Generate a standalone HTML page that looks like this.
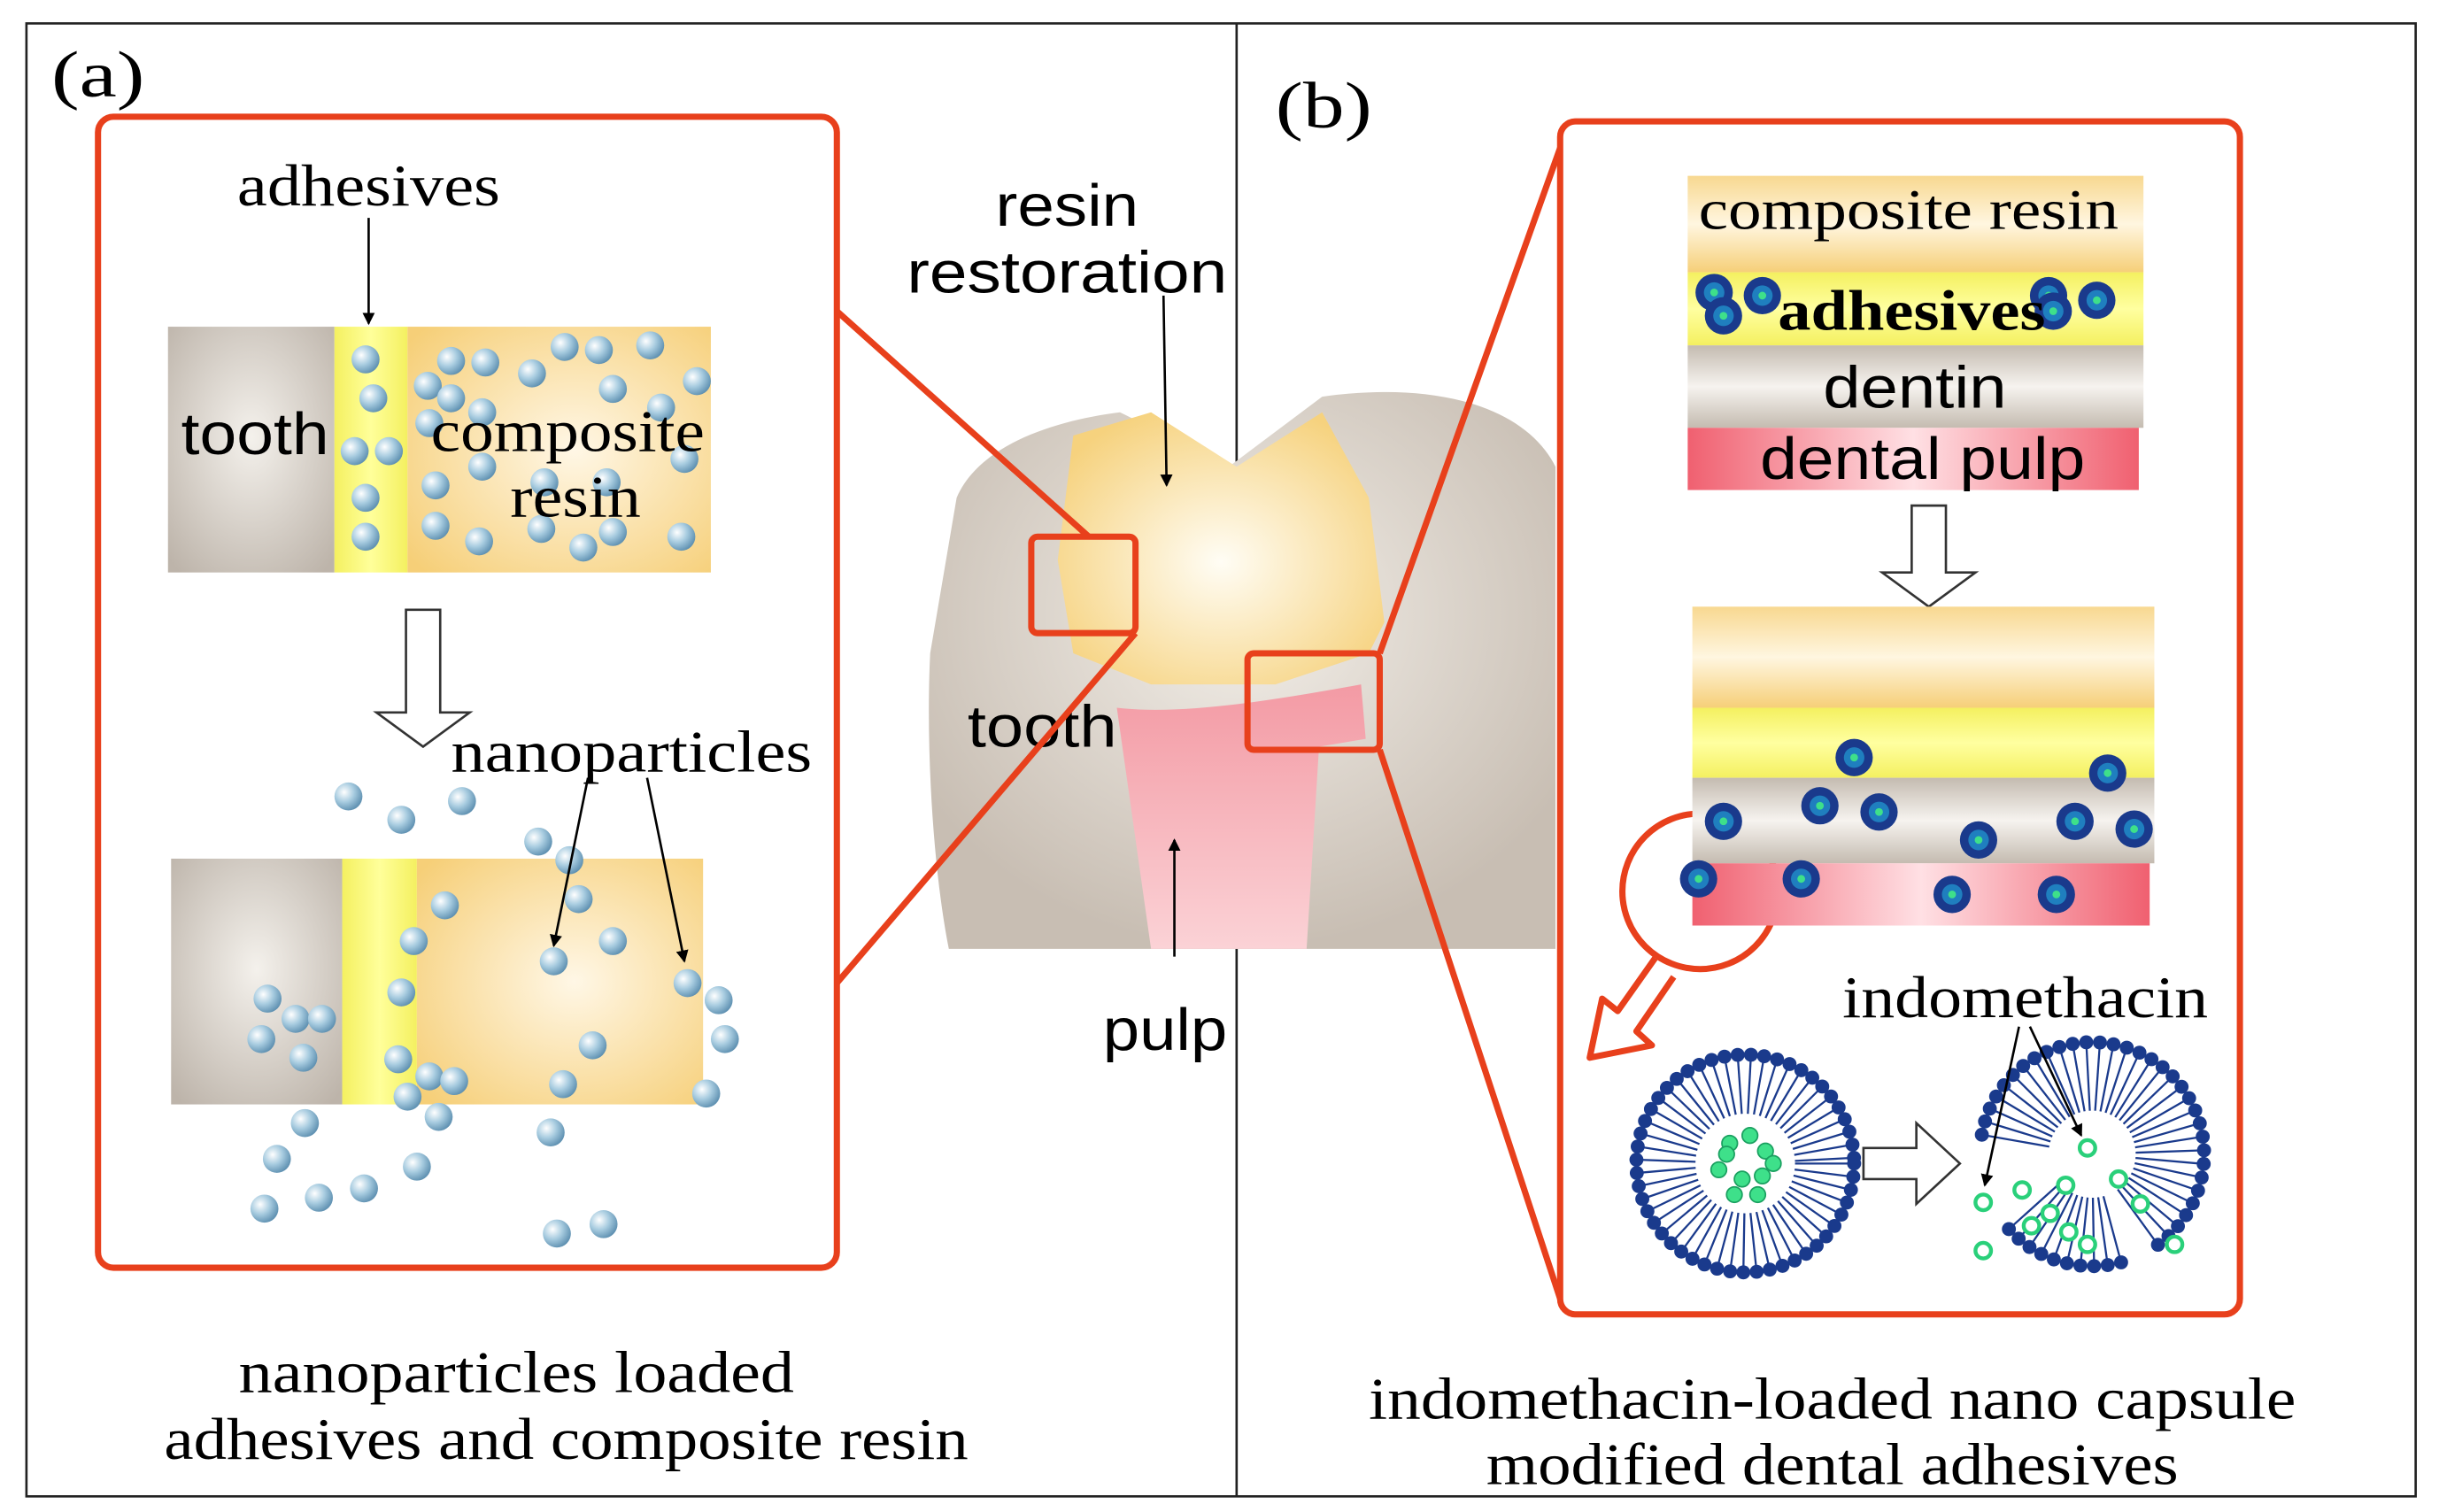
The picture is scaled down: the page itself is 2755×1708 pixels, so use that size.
<!DOCTYPE html>
<html><head><meta charset="utf-8"><style>
html,body{margin:0;padding:0;background:#fff}
svg{display:block}
.se{font-family:"Liberation Serif",serif}
.sa{font-family:"Liberation Sans",sans-serif}
</style></head><body>
<svg id="s" width="2755" height="1708" viewBox="0 0 1568 972" xmlns="http://www.w3.org/2000/svg">
<defs>
<radialGradient id="tg" cx="0.5" cy="0.45" r="0.7"><stop offset="0" stop-color="#f4f1ec"/><stop offset="1" stop-color="#bdb4aa"/></radialGradient>
<radialGradient id="cg" cx="0.55" cy="0.5" r="0.7"><stop offset="0" stop-color="#fff7e6"/><stop offset="1" stop-color="#f6cf78"/></radialGradient>
<linearGradient id="yg" x1="0" x2="1"><stop offset="0" stop-color="#f4f060"/><stop offset="0.5" stop-color="#ffff9a"/><stop offset="1" stop-color="#f4f060"/></linearGradient>
<linearGradient id="yh" x1="0" y1="0" x2="0" y2="1"><stop offset="0" stop-color="#f4f060"/><stop offset="0.5" stop-color="#ffffa0"/><stop offset="1" stop-color="#f4f060"/></linearGradient>
<linearGradient id="ch" x1="0" y1="0" x2="0" y2="1"><stop offset="0" stop-color="#f8d890"/><stop offset="0.5" stop-color="#fff6e0"/><stop offset="1" stop-color="#f6cf78"/></linearGradient>
<linearGradient id="dh" x1="0" y1="0" x2="0" y2="1"><stop offset="0" stop-color="#c4bbb0"/><stop offset="0.5" stop-color="#f6f3ef"/><stop offset="1" stop-color="#c4bbb0"/></linearGradient>
<linearGradient id="ph" x1="0" y1="0" x2="1" y2="0"><stop offset="0" stop-color="#f06070"/><stop offset="0.5" stop-color="#ffe0e4"/><stop offset="1" stop-color="#f06070"/></linearGradient>
<radialGradient id="bg" cx="0.35" cy="0.35" r="0.7"><stop offset="0" stop-color="#ffffff"/><stop offset="0.5" stop-color="#a8cce0"/><stop offset="1" stop-color="#5d8fb0"/></radialGradient>
<radialGradient id="toothg" cx="0.5" cy="0.4" r="0.6"><stop offset="0" stop-color="#f3efe9"/><stop offset="1" stop-color="#c8beb3"/></radialGradient>
<radialGradient id="crg" cx="0.5" cy="0.55" r="0.6"><stop offset="0" stop-color="#fffdf5"/><stop offset="1" stop-color="#f6d27e"/></radialGradient>
<linearGradient id="pg" x1="0" y1="0" x2="0" y2="1"><stop offset="0" stop-color="#f39aa4"/><stop offset="1" stop-color="#fbd2d6"/></linearGradient>
<marker id="ar" markerWidth="8" markerHeight="8" refX="7" refY="4" orient="auto" markerUnits="userSpaceOnUse"><path d="M0,0 L8,4 L0,8 Z" fill="#000"/></marker>
</defs>
<rect x="17" y="15" width="1536" height="947" fill="none" stroke="#222" stroke-width="1.5"/>
<line x1="795" y1="15" x2="795" y2="962" stroke="#222" stroke-width="1.5"/>
<text x="33" y="62" class="se" font-size="42" textLength="60" lengthAdjust="spacingAndGlyphs">(a)</text>
<text x="820" y="82" class="se" font-size="42" textLength="62" lengthAdjust="spacingAndGlyphs">(b)</text>

<path d="M615,320 C630,285 680,270 720,265 L790,300 L850,255 C920,245 980,260 1000,300 L1000,610 L610,610 C600,560 595,480 598,420 Z" fill="url(#toothg)"/>
<path d="M690,280 L740,265 L795,300 L850,265 L880,320 L890,400 L880,420 L820,440 L740,440 L690,420 L680,360 Z" fill="url(#crg)"/>
<path d="M718,455 C760,460 820,450 875,440 L878,475 L848,480 L840,610 L740,610 Z" fill="url(#pg)"/>
<text x="686" y="145" class="sa" font-size="38" text-anchor="middle" textLength="92" lengthAdjust="spacingAndGlyphs">resin</text>
<text x="686" y="188" class="sa" font-size="38" text-anchor="middle" textLength="206" lengthAdjust="spacingAndGlyphs">restoration</text>
<text x="670" y="480" class="sa" font-size="38" text-anchor="middle" textLength="96" lengthAdjust="spacingAndGlyphs">tooth</text>
<text x="749" y="675" class="sa" font-size="38" text-anchor="middle" textLength="80" lengthAdjust="spacingAndGlyphs">pulp</text>
<line x1="748" y1="190" x2="750" y2="312" stroke="#000" stroke-width="1.5" marker-end="url(#ar)"/>
<line x1="755" y1="615" x2="755" y2="540" stroke="#000" stroke-width="1.5" marker-end="url(#ar)"/>

<g stroke="#e8401c" stroke-width="4" fill="none">
<rect x="63" y="75" width="475" height="740" rx="10"/>
<rect x="663" y="345" width="67" height="62" rx="4"/>
<line x1="538" y1="200" x2="700" y2="345"/>
<line x1="538" y1="632" x2="730" y2="407"/>
<rect x="802" y="420" width="85" height="62" rx="4"/>
<rect x="1003" y="78" width="437" height="767" rx="10"/>
<line x1="887" y1="420" x2="1003" y2="95"/>
<line x1="887" y1="482" x2="1003" y2="835"/>
<circle cx="1093" cy="573" r="50"/>
</g>
<path d="M1064,616 L1040,650 L1030,642 L1022,680 L1062,672 L1052,663 L1076,628" fill="#fff" stroke="#e8401c" stroke-width="4" stroke-linejoin="round"/>

<rect x="108" y="210" width="107" height="158" fill="url(#tg)"/>
<rect x="215" y="210" width="47" height="158" fill="url(#yg)"/>
<rect x="262" y="210" width="195" height="158" fill="url(#cg)"/>
<g id="balls1"></g>
<text x="237" y="132" class="se" font-size="38" text-anchor="middle" textLength="169" lengthAdjust="spacingAndGlyphs">adhesives</text>
<line x1="237" y1="140" x2="237" y2="208" stroke="#000" stroke-width="1.5" marker-end="url(#ar)"/>
<text x="164" y="292" class="sa" font-size="38" text-anchor="middle" textLength="95" lengthAdjust="spacingAndGlyphs">tooth</text>
<text x="365" y="290" class="se" font-size="38" text-anchor="middle" textLength="176" lengthAdjust="spacingAndGlyphs">composite</text>
<text x="370" y="332" class="se" font-size="38" text-anchor="middle" textLength="84" lengthAdjust="spacingAndGlyphs">resin</text>
<path d="M261,392 L283,392 L283,458 L302,458 L272,480 L242,458 L261,458 Z" fill="#fff" stroke="#333" stroke-width="1.5"/>
<rect x="110" y="552" width="110" height="158" fill="url(#tg)"/>
<rect x="220" y="552" width="48" height="158" fill="url(#yg)"/>
<rect x="268" y="552" width="184" height="158" fill="url(#cg)"/>
<g id="balls2"></g>
<text x="406" y="496" class="se" font-size="38" text-anchor="middle" textLength="232" lengthAdjust="spacingAndGlyphs">nanoparticles</text>
<line x1="378" y1="500" x2="356" y2="608" stroke="#000" stroke-width="1.5" marker-end="url(#ar)"/>
<line x1="416" y1="500" x2="440" y2="618" stroke="#000" stroke-width="1.5" marker-end="url(#ar)"/>

<rect x="1085" y="113" width="293" height="62" fill="url(#ch)"/>
<rect x="1085" y="175" width="293" height="47" fill="url(#yh)"/>
<rect x="1085" y="222" width="293" height="53" fill="url(#dh)"/>
<rect x="1085" y="275" width="290" height="40" fill="url(#ph)"/>
<g id="caps1"></g>
<text x="1227" y="147" class="se" font-size="37" text-anchor="middle" textLength="270" lengthAdjust="spacingAndGlyphs">composite resin</text>
<text x="1229" y="212" class="se" font-size="37" font-weight="bold" text-anchor="middle" textLength="172" lengthAdjust="spacingAndGlyphs">adhesives</text>
<text x="1231" y="262" class="sa" font-size="38" text-anchor="middle" textLength="118" lengthAdjust="spacingAndGlyphs">dentin</text>
<text x="1236" y="308" class="sa" font-size="38" text-anchor="middle" textLength="209" lengthAdjust="spacingAndGlyphs">dental pulp</text>
<path d="M1229,325 L1251,325 L1251,368 L1270,368 L1240,390 L1210,368 L1229,368 Z" fill="#fff" stroke="#333" stroke-width="1.5"/>
<rect x="1088" y="390" width="297" height="65" fill="url(#ch)"/>
<rect x="1088" y="455" width="297" height="45" fill="url(#yh)"/>
<rect x="1088" y="500" width="297" height="55" fill="url(#dh)"/>
<rect x="1088" y="555" width="294" height="40" fill="url(#ph)"/>
<g id="caps2"></g>
<g id="lipo"></g>
<path d="M1198,738 L1232,738 L1232,722 L1260,748 L1232,774 L1232,758 L1198,758 Z" fill="#fff" stroke="#333" stroke-width="1.5"/>
<text x="1302" y="654" class="se" font-size="38" text-anchor="middle" textLength="235" lengthAdjust="spacingAndGlyphs">indomethacin</text>
<line x1="1298" y1="660" x2="1276" y2="762" stroke="#000" stroke-width="1.5" marker-end="url(#ar)"/>
<line x1="1305" y1="660" x2="1338" y2="730" stroke="#000" stroke-width="1.5" marker-end="url(#ar)"/>

<text x="332" y="895" class="se" font-size="38" text-anchor="middle" textLength="357" lengthAdjust="spacingAndGlyphs">nanoparticles loaded</text>
<text x="364" y="938" class="se" font-size="38" text-anchor="middle" textLength="517" lengthAdjust="spacingAndGlyphs">adhesives and composite resin</text>
<text x="1178" y="912" class="se" font-size="38" text-anchor="middle" textLength="596" lengthAdjust="spacingAndGlyphs">indomethacin-loaded nano capsule</text>
<text x="1178" y="954" class="se" font-size="38" text-anchor="middle" textLength="445" lengthAdjust="spacingAndGlyphs">modified dental adhesives</text>
</svg>
<script>
var NS="http://www.w3.org/2000/svg";
function el(p,t,a){var e=document.createElementNS(NS,t);for(var k in a)e.setAttribute(k,a[k]);document.getElementById(p).appendChild(e);return e;}
function ball(p,x,y){el(p,"circle",{cx:x,cy:y,r:9,fill:"url(#bg)"});}
[[235,231],[240,256],[228,290],[250,290],[235,320],[235,345],[275,248],[290,232],[312,233],[342,240],[363,223],[385,225],[418,222],[448,245],[290,256],[310,265],[276,272],[394,250],[425,262],[440,295],[280,312],[310,300],[390,310],[280,338],[308,348],[348,340],[375,352],[394,342],[438,345],[350,310]].forEach(function(b){ball("balls1",b[0],b[1]);});
[[224,512],[258,527],[297,515],[346,541],[366,553],[372,578],[286,582],[266,605],[394,605],[356,618],[442,632],[258,638],[462,643],[172,642],[190,655],[207,655],[168,668],[195,680],[381,672],[466,668],[256,681],[276,692],[292,695],[262,705],[362,697],[454,703],[282,718],[196,722],[354,728],[178,745],[268,750],[234,764],[205,770],[170,777],[388,787],[358,793]].forEach(function(b){ball("balls2",b[0],b[1]);});
function cap(p,x,y,r){el(p,"circle",{cx:x,cy:y,r:r||11,fill:"#1a3a8c"});el(p,"circle",{cx:x,cy:y,r:(r||11)*0.55,fill:"#1f7fbf"});el(p,"circle",{cx:x,cy:y,r:2.5,fill:"#3ee08a"});}
[[1102,188],[1108,203],[1133,190],[1317,190],[1348,193],[1320,200]].forEach(function(b){cap("caps1",b[0],b[1],12);});
[[1192,487],[1355,497],[1108,528],[1170,518],[1208,522],[1334,528],[1372,533],[1272,540],[1092,565],[1158,565],[1255,575],[1322,575]].forEach(function(b){cap("caps2",b[0],b[1],12);});
function lipo(cx,cy,R,r,start,end){for(var a=start;a<end;a+=7){var t=a*Math.PI/180;var x1=cx+R*Math.cos(t),y1=cy+R*Math.sin(t),x2=cx+r*Math.cos(t),y2=cy+r*Math.sin(t);el("lipo","line",{x1:x1,y1:y1,x2:x2,y2:y2,stroke:"#1a3a8c","stroke-width":1.3});el("lipo","circle",{cx:x1,cy:y1,r:4.5,fill:"#1a3a8c"});}}
lipo(1122,748,70,32,0,360);
lipo(1345,742,72,28,-170,60);
lipo(1345,742,72,28,75,140);
[[1112,735],[1125,730],[1135,740],[1105,752],[1120,758],[1133,756],[1115,768],[1130,768],[1140,748],[1110,742]].forEach(function(b){el("lipo","circle",{cx:b[0],cy:b[1],r:5,fill:"#3ee08a",stroke:"#1aa060","stroke-width":1});});
[[1342,738],[1362,758],[1300,765],[1275,773],[1328,762],[1376,774],[1306,788],[1330,792],[1342,800],[1275,804],[1398,800],[1318,780]].forEach(function(b){el("lipo","circle",{cx:b[0],cy:b[1],r:5,fill:"#fff",stroke:"#2ad07a","stroke-width":2.5});});
</script>
</body></html>
